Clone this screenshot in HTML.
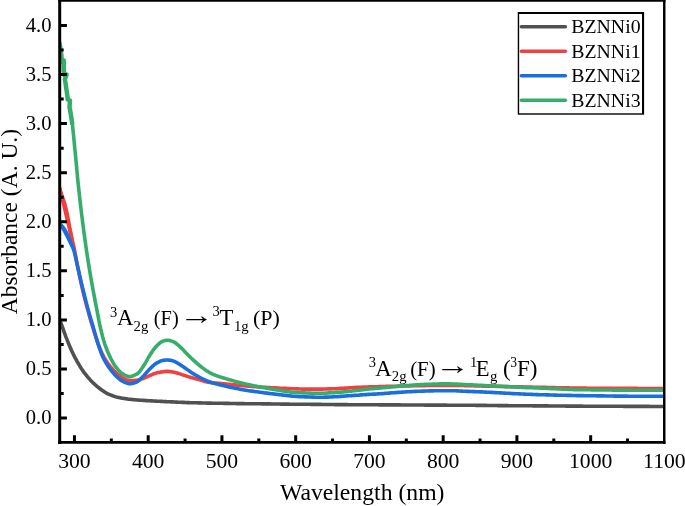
<!DOCTYPE html>
<html><head><meta charset="utf-8"><title>Absorbance</title>
<style>
html,body{margin:0;padding:0;background:#fff;}
svg{display:block}
text{font-family:"Liberation Serif",serif;fill:#000}
</style></head><body>
<svg width="685" height="506" viewBox="0 0 685 506">
<rect width="685" height="506" fill="#fff"/>
<defs><clipPath id="c"><rect x="59.7" y="0.25" width="604.6999999999999" height="442.25"/></clipPath></defs>
<g clip-path="url(#c)" fill="none" stroke-width="3.6" stroke-linejoin="round" stroke-linecap="butt">
<path d="M58.0,317.0 L59.0,318.9 L60.0,321.0 L61.0,323.2 L62.0,325.8 L63.0,328.6 L64.0,331.6 L65.0,334.4 L66.0,337.1 L67.0,339.6 L68.0,342.1 L69.0,344.6 L70.0,347.0 L71.0,349.3 L72.0,351.5 L73.0,353.6 L74.0,355.6 L75.0,357.6 L76.0,359.4 L77.0,361.3 L78.0,363.0 L79.0,364.7 L80.0,366.4 L81.0,368.0 L82.0,369.5 L83.0,370.9 L84.0,372.3 L85.0,373.6 L86.0,374.9 L87.0,376.2 L88.0,377.4 L89.0,378.5 L90.0,379.6 L91.0,380.7 L92.0,381.7 L93.0,382.7 L94.0,383.7 L95.0,384.6 L96.0,385.5 L97.0,386.4 L98.0,387.2 L99.0,388.0 L100.0,388.8 L101.0,389.5 L102.0,390.2 L103.0,390.9 L104.0,391.5 L105.0,392.2 L106.0,392.8 L107.0,393.3 L108.0,393.8 L109.0,394.3 L110.0,394.7 L111.0,395.1 L112.0,395.5 L113.0,395.9 L114.0,396.3 L115.0,396.6 L116.0,396.9 L117.0,397.1 L118.0,397.4 L119.0,397.6 L120.0,397.8 L121.0,398.0 L122.0,398.2 L123.0,398.3 L124.0,398.5 L125.0,398.6 L126.0,398.8 L127.0,398.9 L128.0,399.1 L129.0,399.2 L130.0,399.3 L131.0,399.4 L132.0,399.5 L133.0,399.6 L134.0,399.7 L135.0,399.8 L136.0,399.9 L137.0,400.0 L138.0,400.0 L139.0,400.1 L140.0,400.2 L141.0,400.2 L142.0,400.3 L143.0,400.4 L144.0,400.4 L145.0,400.5 L146.0,400.6 L147.0,400.6 L148.0,400.7 L149.0,400.7 L150.0,400.8 L151.0,400.9 L152.0,400.9 L153.0,401.0 L154.0,401.0 L155.0,401.1 L156.0,401.1 L157.0,401.2 L158.0,401.2 L159.0,401.3 L160.0,401.3 L161.0,401.4 L162.0,401.4 L163.0,401.5 L164.0,401.5 L165.0,401.6 L166.0,401.6 L167.0,401.7 L168.0,401.7 L169.0,401.8 L170.0,401.8 L171.0,401.9 L172.0,401.9 L173.0,401.9 L174.0,402.0 L175.0,402.0 L176.0,402.1 L177.0,402.1 L178.0,402.2 L179.0,402.2 L180.0,402.3 L181.0,402.3 L182.0,402.4 L183.0,402.4 L184.0,402.4 L185.0,402.5 L186.0,402.5 L187.0,402.6 L188.0,402.6 L189.0,402.6 L190.0,402.7 L191.0,402.7 L192.0,402.7 L193.0,402.7 L194.0,402.8 L195.0,402.8 L196.0,402.8 L197.0,402.8 L198.0,402.9 L199.0,402.9 L200.0,402.9 L201.0,402.9 L202.0,403.0 L203.0,403.0 L204.0,403.0 L205.0,403.0 L206.0,403.0 L207.0,403.1 L208.0,403.1 L209.0,403.1 L210.0,403.1 L211.0,403.1 L212.0,403.2 L213.0,403.2 L214.0,403.2 L215.0,403.2 L216.0,403.2 L217.0,403.2 L218.0,403.3 L219.0,403.3 L220.0,403.3 L221.0,403.3 L222.0,403.3 L223.0,403.3 L224.0,403.4 L225.0,403.4 L226.0,403.4 L227.0,403.4 L228.0,403.4 L229.0,403.4 L230.0,403.5 L231.0,403.5 L232.0,403.5 L233.0,403.5 L234.0,403.5 L235.0,403.5 L236.0,403.5 L237.0,403.6 L238.0,403.6 L239.0,403.6 L240.0,403.6 L241.0,403.6 L242.0,403.6 L243.0,403.6 L244.0,403.6 L245.0,403.7 L246.0,403.7 L247.0,403.7 L248.0,403.7 L249.0,403.7 L250.0,403.7 L251.0,403.7 L252.0,403.7 L253.0,403.8 L254.0,403.8 L255.0,403.8 L256.0,403.8 L257.0,403.8 L258.0,403.8 L259.0,403.8 L260.0,403.8 L261.0,403.8 L262.0,403.9 L263.0,403.9 L264.0,403.9 L265.0,403.9 L266.0,403.9 L267.0,403.9 L268.0,403.9 L269.0,403.9 L270.0,403.9 L271.0,404.0 L272.0,404.0 L273.0,404.0 L274.0,404.0 L275.0,404.0 L276.0,404.0 L277.0,404.0 L278.0,404.0 L279.0,404.0 L280.0,404.0 L281.0,404.1 L282.0,404.1 L283.0,404.1 L284.0,404.1 L285.0,404.1 L286.0,404.1 L287.0,404.1 L288.0,404.1 L289.0,404.1 L290.0,404.2 L291.0,404.2 L292.0,404.2 L293.0,404.2 L294.0,404.2 L295.0,404.2 L296.0,404.2 L297.0,404.2 L298.0,404.2 L299.0,404.2 L300.0,404.3 L301.0,404.3 L302.0,404.3 L303.0,404.3 L304.0,404.3 L305.0,404.3 L306.0,404.3 L307.0,404.3 L308.0,404.3 L309.0,404.3 L310.0,404.3 L311.0,404.4 L312.0,404.4 L313.0,404.4 L314.0,404.4 L315.0,404.4 L316.0,404.4 L317.0,404.4 L318.0,404.4 L319.0,404.4 L320.0,404.4 L321.0,404.4 L322.0,404.5 L323.0,404.5 L324.0,404.5 L325.0,404.5 L326.0,404.5 L327.0,404.5 L328.0,404.5 L329.0,404.5 L330.0,404.5 L331.0,404.5 L332.0,404.5 L333.0,404.5 L334.0,404.5 L335.0,404.6 L336.0,404.6 L337.0,404.6 L338.0,404.6 L339.0,404.6 L340.0,404.6 L341.0,404.6 L342.0,404.6 L343.0,404.6 L344.0,404.6 L345.0,404.6 L346.0,404.6 L347.0,404.6 L348.0,404.7 L349.0,404.7 L350.0,404.7 L351.0,404.7 L352.0,404.7 L353.0,404.7 L354.0,404.7 L355.0,404.7 L356.0,404.7 L357.0,404.7 L358.0,404.7 L359.0,404.7 L360.0,404.7 L361.0,404.7 L362.0,404.8 L363.0,404.8 L364.0,404.8 L365.0,404.8 L366.0,404.8 L367.0,404.8 L368.0,404.8 L369.0,404.8 L370.0,404.8 L371.0,404.8 L372.0,404.8 L373.0,404.8 L374.0,404.8 L375.0,404.8 L376.0,404.8 L377.0,404.8 L378.0,404.8 L379.0,404.9 L380.0,404.9 L381.0,404.9 L382.0,404.9 L383.0,404.9 L384.0,404.9 L385.0,404.9 L386.0,404.9 L387.0,404.9 L388.0,404.9 L389.0,404.9 L390.0,404.9 L391.0,404.9 L392.0,404.9 L393.0,404.9 L394.0,404.9 L395.0,404.9 L396.0,404.9 L397.0,404.9 L398.0,404.9 L399.0,404.9 L400.0,404.9 L401.0,405.0 L402.0,405.0 L403.0,405.0 L404.0,405.0 L405.0,405.0 L406.0,405.0 L407.0,405.0 L408.0,405.0 L409.0,405.0 L410.0,405.0 L411.0,405.0 L412.0,405.0 L413.0,405.0 L414.0,405.0 L415.0,405.0 L416.0,405.0 L417.0,405.0 L418.0,405.0 L419.0,405.0 L420.0,405.0 L421.0,405.0 L422.0,405.0 L423.0,405.0 L424.0,405.0 L425.0,405.1 L426.0,405.1 L427.0,405.1 L428.0,405.1 L429.0,405.1 L430.0,405.1 L431.0,405.1 L432.0,405.1 L433.0,405.1 L434.0,405.1 L435.0,405.1 L436.0,405.1 L437.0,405.1 L438.0,405.1 L439.0,405.1 L440.0,405.1 L441.0,405.1 L442.0,405.1 L443.0,405.1 L444.0,405.1 L445.0,405.1 L446.0,405.1 L447.0,405.2 L448.0,405.2 L449.0,405.2 L450.0,405.2 L451.0,405.2 L452.0,405.2 L453.0,405.2 L454.0,405.2 L455.0,405.2 L456.0,405.2 L457.0,405.2 L458.0,405.2 L459.0,405.2 L460.0,405.2 L461.0,405.2 L462.0,405.2 L463.0,405.3 L464.0,405.3 L465.0,405.3 L466.0,405.3 L467.0,405.3 L468.0,405.3 L469.0,405.3 L470.0,405.3 L471.0,405.3 L472.0,405.3 L473.0,405.3 L474.0,405.3 L475.0,405.3 L476.0,405.4 L477.0,405.4 L478.0,405.4 L479.0,405.4 L480.0,405.4 L481.0,405.4 L482.0,405.4 L483.0,405.4 L484.0,405.4 L485.0,405.4 L486.0,405.4 L487.0,405.5 L488.0,405.5 L489.0,405.5 L490.0,405.5 L491.0,405.5 L492.0,405.5 L493.0,405.5 L494.0,405.5 L495.0,405.5 L496.0,405.5 L497.0,405.5 L498.0,405.6 L499.0,405.6 L500.0,405.6 L501.0,405.6 L502.0,405.6 L503.0,405.6 L504.0,405.6 L505.0,405.6 L506.0,405.6 L507.0,405.6 L508.0,405.6 L509.0,405.7 L510.0,405.7 L511.0,405.7 L512.0,405.7 L513.0,405.7 L514.0,405.7 L515.0,405.7 L516.0,405.7 L517.0,405.7 L518.0,405.7 L519.0,405.7 L520.0,405.8 L521.0,405.8 L522.0,405.8 L523.0,405.8 L524.0,405.8 L525.0,405.8 L526.0,405.8 L527.0,405.8 L528.0,405.8 L529.0,405.8 L530.0,405.8 L531.0,405.8 L532.0,405.8 L533.0,405.9 L534.0,405.9 L535.0,405.9 L536.0,405.9 L537.0,405.9 L538.0,405.9 L539.0,405.9 L540.0,405.9 L541.0,405.9 L542.0,405.9 L543.0,405.9 L544.0,405.9 L545.0,405.9 L546.0,405.9 L547.0,405.9 L548.0,405.9 L549.0,406.0 L550.0,406.0 L551.0,406.0 L552.0,406.0 L553.0,406.0 L554.0,406.0 L555.0,406.0 L556.0,406.0 L557.0,406.0 L558.0,406.0 L559.0,406.0 L560.0,406.0 L561.0,406.0 L562.0,406.0 L563.0,406.0 L564.0,406.0 L565.0,406.0 L566.0,406.1 L567.0,406.1 L568.0,406.1 L569.0,406.1 L570.0,406.1 L571.0,406.1 L572.0,406.1 L573.0,406.1 L574.0,406.1 L575.0,406.1 L576.0,406.1 L577.0,406.1 L578.0,406.1 L579.0,406.1 L580.0,406.1 L581.0,406.1 L582.0,406.1 L583.0,406.2 L584.0,406.2 L585.0,406.2 L586.0,406.2 L587.0,406.2 L588.0,406.2 L589.0,406.2 L590.0,406.2 L591.0,406.2 L592.0,406.2 L593.0,406.2 L594.0,406.2 L595.0,406.2 L596.0,406.2 L597.0,406.2 L598.0,406.2 L599.0,406.2 L600.0,406.2 L601.0,406.2 L602.0,406.2 L603.0,406.3 L604.0,406.3 L605.0,406.3 L606.0,406.3 L607.0,406.3 L608.0,406.3 L609.0,406.3 L610.0,406.3 L611.0,406.3 L612.0,406.3 L613.0,406.3 L614.0,406.3 L615.0,406.3 L616.0,406.3 L617.0,406.3 L618.0,406.3 L619.0,406.3 L620.0,406.3 L621.0,406.3 L622.0,406.3 L623.0,406.3 L624.0,406.4 L625.0,406.4 L626.0,406.4 L627.0,406.4 L628.0,406.4 L629.0,406.4 L630.0,406.4 L631.0,406.4 L632.0,406.4 L633.0,406.4 L634.0,406.4 L635.0,406.4 L636.0,406.4 L637.0,406.4 L638.0,406.4 L639.0,406.4 L640.0,406.4 L641.0,406.4 L642.0,406.4 L643.0,406.4 L644.0,406.4 L645.0,406.4 L646.0,406.4 L647.0,406.4 L648.0,406.4 L649.0,406.4 L650.0,406.5 L651.0,406.5 L652.0,406.5 L653.0,406.5 L654.0,406.5 L655.0,406.5 L656.0,406.5 L657.0,406.5 L658.0,406.5 L659.0,406.5 L660.0,406.5 L661.0,406.5 L662.0,406.5 L663.0,406.5 L664.0,406.5 L665.0,406.5 L666.0,406.5" stroke="#515151"/>
<path d="M58.0,182.0 L59.0,185.8 L60.0,189.7 L61.0,193.6 L62.0,197.6 L63.0,201.8 L64.0,205.9 L65.0,210.2 L66.0,214.4 L67.0,218.7 L68.0,222.9 L69.0,227.1 L70.0,231.1 L71.0,235.0 L72.0,239.0 L73.0,243.1 L74.0,247.5 L75.0,252.5 L76.0,257.9 L77.0,263.0 L78.0,268.1 L79.0,273.1 L80.0,278.0 L81.0,282.7 L82.0,287.1 L83.0,291.3 L84.0,295.5 L85.0,299.5 L86.0,303.4 L87.0,307.2 L88.0,310.9 L89.0,314.5 L90.0,318.1 L91.0,321.5 L92.0,324.8 L93.0,328.1 L94.0,331.3 L95.0,334.5 L96.0,337.7 L97.0,340.7 L98.0,343.6 L99.0,346.3 L100.0,348.7 L101.0,351.0 L102.0,353.3 L103.0,355.3 L104.0,357.3 L105.0,359.0 L106.0,360.6 L107.0,362.1 L108.0,363.5 L109.0,364.8 L110.0,366.1 L111.0,367.3 L112.0,368.5 L113.0,369.6 L114.0,370.7 L115.0,371.7 L116.0,372.6 L117.0,373.5 L118.0,374.4 L119.0,375.2 L120.0,376.0 L121.0,376.7 L122.0,377.4 L123.0,378.1 L124.0,378.6 L125.0,379.1 L126.0,379.6 L127.0,380.0 L128.0,380.3 L129.0,380.6 L130.0,380.6 L131.0,380.6 L132.0,380.6 L133.0,380.5 L134.0,380.5 L135.0,380.4 L136.0,380.3 L137.0,380.2 L138.0,380.0 L139.0,379.8 L140.0,379.5 L141.0,379.2 L142.0,378.9 L143.0,378.5 L144.0,378.2 L145.0,377.7 L146.0,377.3 L147.0,376.8 L148.0,376.3 L149.0,375.9 L150.0,375.4 L151.0,375.0 L152.0,374.6 L153.0,374.1 L154.0,373.8 L155.0,373.4 L156.0,373.1 L157.0,372.8 L158.0,372.6 L159.0,372.4 L160.0,372.2 L161.0,372.0 L162.0,371.9 L163.0,371.7 L164.0,371.6 L165.0,371.5 L166.0,371.4 L167.0,371.4 L168.0,371.4 L169.0,371.5 L170.0,371.6 L171.0,371.7 L172.0,371.9 L173.0,372.0 L174.0,372.2 L175.0,372.4 L176.0,372.7 L177.0,373.0 L178.0,373.3 L179.0,373.6 L180.0,373.9 L181.0,374.2 L182.0,374.6 L183.0,374.9 L184.0,375.3 L185.0,375.6 L186.0,375.9 L187.0,376.3 L188.0,376.6 L189.0,376.9 L190.0,377.2 L191.0,377.5 L192.0,377.8 L193.0,378.1 L194.0,378.3 L195.0,378.6 L196.0,378.9 L197.0,379.1 L198.0,379.4 L199.0,379.6 L200.0,379.9 L201.0,380.2 L202.0,380.5 L203.0,380.8 L204.0,381.2 L205.0,381.5 L206.0,381.8 L207.0,382.0 L208.0,382.2 L209.0,382.3 L210.0,382.5 L211.0,382.6 L212.0,382.7 L213.0,382.8 L214.0,382.9 L215.0,383.0 L216.0,383.0 L217.0,383.1 L218.0,383.2 L219.0,383.3 L220.0,383.4 L221.0,383.5 L222.0,383.6 L223.0,383.7 L224.0,383.8 L225.0,383.9 L226.0,384.0 L227.0,384.1 L228.0,384.2 L229.0,384.3 L230.0,384.4 L231.0,384.5 L232.0,384.6 L233.0,384.7 L234.0,384.8 L235.0,384.9 L236.0,385.0 L237.0,385.1 L238.0,385.2 L239.0,385.3 L240.0,385.4 L241.0,385.5 L242.0,385.6 L243.0,385.7 L244.0,385.8 L245.0,385.9 L246.0,386.0 L247.0,386.0 L248.0,386.1 L249.0,386.2 L250.0,386.3 L251.0,386.4 L252.0,386.5 L253.0,386.5 L254.0,386.6 L255.0,386.7 L256.0,386.8 L257.0,386.9 L258.0,386.9 L259.0,387.0 L260.0,387.1 L261.0,387.1 L262.0,387.2 L263.0,387.2 L264.0,387.3 L265.0,387.3 L266.0,387.4 L267.0,387.5 L268.0,387.5 L269.0,387.6 L270.0,387.6 L271.0,387.7 L272.0,387.7 L273.0,387.8 L274.0,387.8 L275.0,387.9 L276.0,387.9 L277.0,388.0 L278.0,388.0 L279.0,388.1 L280.0,388.2 L281.0,388.2 L282.0,388.3 L283.0,388.3 L284.0,388.4 L285.0,388.4 L286.0,388.4 L287.0,388.5 L288.0,388.5 L289.0,388.6 L290.0,388.6 L291.0,388.7 L292.0,388.7 L293.0,388.8 L294.0,388.8 L295.0,388.8 L296.0,388.9 L297.0,388.9 L298.0,388.9 L299.0,389.0 L300.0,389.0 L301.0,389.0 L302.0,389.1 L303.0,389.1 L304.0,389.1 L305.0,389.1 L306.0,389.1 L307.0,389.1 L308.0,389.1 L309.0,389.1 L310.0,389.1 L311.0,389.1 L312.0,389.1 L313.0,389.1 L314.0,389.1 L315.0,389.1 L316.0,389.1 L317.0,389.1 L318.0,389.1 L319.0,389.1 L320.0,389.1 L321.0,389.1 L322.0,389.1 L323.0,389.1 L324.0,389.0 L325.0,389.0 L326.0,389.0 L327.0,389.0 L328.0,388.9 L329.0,388.9 L330.0,388.9 L331.0,388.9 L332.0,388.8 L333.0,388.8 L334.0,388.7 L335.0,388.7 L336.0,388.7 L337.0,388.6 L338.0,388.6 L339.0,388.5 L340.0,388.4 L341.0,388.4 L342.0,388.3 L343.0,388.3 L344.0,388.2 L345.0,388.1 L346.0,388.1 L347.0,388.0 L348.0,388.0 L349.0,387.9 L350.0,387.8 L351.0,387.8 L352.0,387.7 L353.0,387.6 L354.0,387.6 L355.0,387.5 L356.0,387.4 L357.0,387.4 L358.0,387.3 L359.0,387.3 L360.0,387.2 L361.0,387.2 L362.0,387.2 L363.0,387.1 L364.0,387.1 L365.0,387.1 L366.0,387.0 L367.0,387.0 L368.0,387.0 L369.0,386.9 L370.0,386.9 L371.0,386.9 L372.0,386.8 L373.0,386.8 L374.0,386.8 L375.0,386.7 L376.0,386.7 L377.0,386.7 L378.0,386.7 L379.0,386.6 L380.0,386.6 L381.0,386.6 L382.0,386.5 L383.0,386.5 L384.0,386.5 L385.0,386.5 L386.0,386.4 L387.0,386.4 L388.0,386.4 L389.0,386.4 L390.0,386.3 L391.0,386.3 L392.0,386.3 L393.0,386.3 L394.0,386.2 L395.0,386.2 L396.0,386.2 L397.0,386.2 L398.0,386.1 L399.0,386.1 L400.0,386.1 L401.0,386.1 L402.0,386.1 L403.0,386.0 L404.0,386.0 L405.0,386.0 L406.0,386.0 L407.0,385.9 L408.0,385.9 L409.0,385.9 L410.0,385.9 L411.0,385.9 L412.0,385.8 L413.0,385.8 L414.0,385.8 L415.0,385.8 L416.0,385.7 L417.0,385.7 L418.0,385.7 L419.0,385.7 L420.0,385.7 L421.0,385.6 L422.0,385.6 L423.0,385.6 L424.0,385.6 L425.0,385.6 L426.0,385.5 L427.0,385.5 L428.0,385.5 L429.0,385.5 L430.0,385.5 L431.0,385.5 L432.0,385.5 L433.0,385.5 L434.0,385.5 L435.0,385.5 L436.0,385.5 L437.0,385.5 L438.0,385.5 L439.0,385.4 L440.0,385.4 L441.0,385.4 L442.0,385.4 L443.0,385.4 L444.0,385.4 L445.0,385.4 L446.0,385.4 L447.0,385.4 L448.0,385.4 L449.0,385.4 L450.0,385.4 L451.0,385.4 L452.0,385.4 L453.0,385.4 L454.0,385.4 L455.0,385.4 L456.0,385.4 L457.0,385.4 L458.0,385.4 L459.0,385.4 L460.0,385.4 L461.0,385.5 L462.0,385.5 L463.0,385.5 L464.0,385.5 L465.0,385.6 L466.0,385.6 L467.0,385.6 L468.0,385.7 L469.0,385.7 L470.0,385.7 L471.0,385.8 L472.0,385.8 L473.0,385.8 L474.0,385.8 L475.0,385.9 L476.0,385.9 L477.0,385.9 L478.0,385.9 L479.0,386.0 L480.0,386.0 L481.0,386.0 L482.0,386.0 L483.0,386.1 L484.0,386.1 L485.0,386.1 L486.0,386.1 L487.0,386.1 L488.0,386.2 L489.0,386.2 L490.0,386.2 L491.0,386.2 L492.0,386.3 L493.0,386.3 L494.0,386.3 L495.0,386.3 L496.0,386.4 L497.0,386.4 L498.0,386.4 L499.0,386.4 L500.0,386.4 L501.0,386.5 L502.0,386.5 L503.0,386.5 L504.0,386.5 L505.0,386.6 L506.0,386.6 L507.0,386.6 L508.0,386.6 L509.0,386.6 L510.0,386.7 L511.0,386.7 L512.0,386.7 L513.0,386.7 L514.0,386.7 L515.0,386.8 L516.0,386.8 L517.0,386.8 L518.0,386.8 L519.0,386.9 L520.0,386.9 L521.0,386.9 L522.0,386.9 L523.0,386.9 L524.0,387.0 L525.0,387.0 L526.0,387.0 L527.0,387.0 L528.0,387.0 L529.0,387.1 L530.0,387.1 L531.0,387.1 L532.0,387.1 L533.0,387.2 L534.0,387.2 L535.0,387.2 L536.0,387.2 L537.0,387.2 L538.0,387.3 L539.0,387.3 L540.0,387.3 L541.0,387.3 L542.0,387.3 L543.0,387.4 L544.0,387.4 L545.0,387.4 L546.0,387.4 L547.0,387.5 L548.0,387.5 L549.0,387.5 L550.0,387.5 L551.0,387.5 L552.0,387.6 L553.0,387.6 L554.0,387.6 L555.0,387.6 L556.0,387.7 L557.0,387.7 L558.0,387.7 L559.0,387.7 L560.0,387.8 L561.0,387.8 L562.0,387.8 L563.0,387.8 L564.0,387.9 L565.0,387.9 L566.0,387.9 L567.0,387.9 L568.0,387.9 L569.0,387.9 L570.0,388.0 L571.0,388.0 L572.0,388.0 L573.0,388.0 L574.0,388.0 L575.0,388.0 L576.0,388.1 L577.0,388.1 L578.0,388.1 L579.0,388.1 L580.0,388.1 L581.0,388.1 L582.0,388.1 L583.0,388.1 L584.0,388.1 L585.0,388.1 L586.0,388.1 L587.0,388.2 L588.0,388.2 L589.0,388.2 L590.0,388.2 L591.0,388.2 L592.0,388.2 L593.0,388.2 L594.0,388.2 L595.0,388.2 L596.0,388.2 L597.0,388.2 L598.0,388.2 L599.0,388.2 L600.0,388.3 L601.0,388.3 L602.0,388.3 L603.0,388.3 L604.0,388.3 L605.0,388.3 L606.0,388.3 L607.0,388.3 L608.0,388.3 L609.0,388.3 L610.0,388.3 L611.0,388.3 L612.0,388.3 L613.0,388.3 L614.0,388.3 L615.0,388.3 L616.0,388.4 L617.0,388.4 L618.0,388.4 L619.0,388.4 L620.0,388.4 L621.0,388.4 L622.0,388.4 L623.0,388.4 L624.0,388.4 L625.0,388.4 L626.0,388.4 L627.0,388.4 L628.0,388.4 L629.0,388.4 L630.0,388.4 L631.0,388.4 L632.0,388.4 L633.0,388.4 L634.0,388.4 L635.0,388.4 L636.0,388.4 L637.0,388.4 L638.0,388.5 L639.0,388.5 L640.0,388.5 L641.0,388.5 L642.0,388.5 L643.0,388.5 L644.0,388.5 L645.0,388.5 L646.0,388.5 L647.0,388.5 L648.0,388.5 L649.0,388.5 L650.0,388.5 L651.0,388.5 L652.0,388.5 L653.0,388.5 L654.0,388.5 L655.0,388.5 L656.0,388.5 L657.0,388.5 L658.0,388.5 L659.0,388.5 L660.0,388.5 L661.0,388.5 L662.0,388.5 L663.0,388.5 L664.0,388.5 L665.0,388.5 L666.0,388.5" stroke="#F14040"/>
<path d="M58.00,182.00 L58.50,183.88 L59.00,185.78 L59.50,187.71 L60.00,189.65 L60.50,191.61 L61.22,193.60 L61.93,195.61 L62.65,197.64 L63.37,199.69 L64.08,201.76 L64.80,203.83 L65.30,205.92 L65.80,208.03 L66.30,210.16 L66.80,212.29 L67.30,214.43 L67.69,216.57 L68.08,218.71 L68.47,220.83 L68.87,222.95 L69.26,225.05 L69.65,227.13 L70.04,229.15 L70.43,231.13 L70.83,233.08 L71.22,235.03 L71.61,236.98 L72.00,238.96" stroke="#F14040"/>
<path d="M58.0,222.0 L59.0,222.9 L60.0,224.0 L61.0,225.3 L62.0,226.7 L63.0,228.3 L64.0,230.1 L65.0,232.0 L66.0,233.8 L67.0,235.7 L68.0,237.7 L69.0,239.7 L70.0,241.8 L71.0,243.8 L72.0,245.9 L73.0,248.1 L74.0,250.9 L75.0,254.8 L76.0,259.3 L77.0,263.9 L78.0,268.3 L79.0,272.7 L80.0,277.1 L81.0,281.4 L82.0,285.7 L83.0,289.8 L84.0,293.8 L85.0,297.7 L86.0,301.6 L87.0,305.4 L88.0,309.1 L89.0,312.7 L90.0,316.2 L91.0,319.7 L92.0,323.1 L93.0,326.6 L94.0,330.1 L95.0,333.5 L96.0,336.9 L97.0,340.1 L98.0,343.4 L99.0,346.6 L100.0,349.7 L101.0,352.5 L102.0,355.0 L103.0,357.2 L104.0,359.3 L105.0,361.2 L106.0,362.9 L107.0,364.5 L108.0,366.1 L109.0,367.5 L110.0,368.9 L111.0,370.2 L112.0,371.5 L113.0,372.7 L114.0,373.9 L115.0,375.0 L116.0,376.0 L117.0,377.0 L118.0,377.9 L119.0,378.7 L120.0,379.5 L121.0,380.3 L122.0,380.9 L123.0,381.5 L124.0,382.0 L125.0,382.4 L126.0,382.8 L127.0,383.2 L128.0,383.5 L129.0,383.7 L130.0,383.7 L131.0,383.6 L132.0,383.5 L133.0,383.2 L134.0,383.0 L135.0,382.6 L136.0,382.3 L137.0,381.9 L138.0,381.2 L139.0,380.4 L140.0,379.5 L141.0,378.4 L142.0,377.4 L143.0,376.4 L144.0,375.4 L145.0,374.3 L146.0,373.1 L147.0,372.0 L148.0,370.9 L149.0,369.8 L150.0,368.8 L151.0,367.8 L152.0,366.8 L153.0,365.9 L154.0,365.0 L155.0,364.2 L156.0,363.5 L157.0,362.9 L158.0,362.3 L159.0,361.8 L160.0,361.3 L161.0,360.9 L162.0,360.6 L163.0,360.4 L164.0,360.3 L165.0,360.1 L166.0,360.0 L167.0,360.0 L168.0,360.0 L169.0,360.1 L170.0,360.3 L171.0,360.4 L172.0,360.6 L173.0,360.9 L174.0,361.2 L175.0,361.6 L176.0,362.2 L177.0,362.8 L178.0,363.4 L179.0,364.0 L180.0,364.6 L181.0,365.3 L182.0,365.9 L183.0,366.6 L184.0,367.3 L185.0,368.0 L186.0,368.7 L187.0,369.4 L188.0,370.1 L189.0,370.8 L190.0,371.5 L191.0,372.2 L192.0,372.9 L193.0,373.5 L194.0,374.1 L195.0,374.7 L196.0,375.3 L197.0,375.9 L198.0,376.4 L199.0,377.0 L200.0,377.5 L201.0,378.0 L202.0,378.5 L203.0,379.0 L204.0,379.5 L205.0,380.0 L206.0,380.4 L207.0,380.9 L208.0,381.3 L209.0,381.6 L210.0,382.0 L211.0,382.3 L212.0,382.7 L213.0,383.0 L214.0,383.3 L215.0,383.6 L216.0,383.9 L217.0,384.1 L218.0,384.4 L219.0,384.6 L220.0,384.9 L221.0,385.1 L222.0,385.4 L223.0,385.6 L224.0,385.8 L225.0,386.1 L226.0,386.3 L227.0,386.5 L228.0,386.7 L229.0,387.0 L230.0,387.2 L231.0,387.4 L232.0,387.6 L233.0,387.8 L234.0,388.0 L235.0,388.2 L236.0,388.4 L237.0,388.6 L238.0,388.8 L239.0,389.0 L240.0,389.2 L241.0,389.4 L242.0,389.6 L243.0,389.7 L244.0,389.9 L245.0,390.1 L246.0,390.2 L247.0,390.4 L248.0,390.6 L249.0,390.7 L250.0,390.9 L251.0,391.0 L252.0,391.1 L253.0,391.3 L254.0,391.4 L255.0,391.6 L256.0,391.7 L257.0,391.8 L258.0,391.9 L259.0,392.1 L260.0,392.2 L261.0,392.3 L262.0,392.5 L263.0,392.6 L264.0,392.7 L265.0,392.9 L266.0,393.0 L267.0,393.1 L268.0,393.3 L269.0,393.4 L270.0,393.5 L271.0,393.7 L272.0,393.8 L273.0,393.9 L274.0,394.0 L275.0,394.1 L276.0,394.3 L277.0,394.4 L278.0,394.5 L279.0,394.6 L280.0,394.7 L281.0,394.8 L282.0,395.0 L283.0,395.1 L284.0,395.2 L285.0,395.3 L286.0,395.4 L287.0,395.5 L288.0,395.7 L289.0,395.8 L290.0,395.9 L291.0,396.0 L292.0,396.1 L293.0,396.2 L294.0,396.3 L295.0,396.3 L296.0,396.4 L297.0,396.5 L298.0,396.5 L299.0,396.6 L300.0,396.6 L301.0,396.7 L302.0,396.7 L303.0,396.8 L304.0,396.8 L305.0,396.9 L306.0,396.9 L307.0,396.9 L308.0,397.0 L309.0,397.0 L310.0,397.0 L311.0,397.0 L312.0,397.1 L313.0,397.1 L314.0,397.1 L315.0,397.2 L316.0,397.2 L317.0,397.2 L318.0,397.2 L319.0,397.2 L320.0,397.2 L321.0,397.2 L322.0,397.2 L323.0,397.2 L324.0,397.2 L325.0,397.1 L326.0,397.1 L327.0,397.1 L328.0,397.1 L329.0,397.0 L330.0,397.0 L331.0,397.0 L332.0,396.9 L333.0,396.9 L334.0,396.8 L335.0,396.8 L336.0,396.7 L337.0,396.7 L338.0,396.6 L339.0,396.5 L340.0,396.4 L341.0,396.4 L342.0,396.3 L343.0,396.2 L344.0,396.1 L345.0,396.0 L346.0,396.0 L347.0,395.9 L348.0,395.8 L349.0,395.8 L350.0,395.7 L351.0,395.6 L352.0,395.6 L353.0,395.5 L354.0,395.4 L355.0,395.4 L356.0,395.3 L357.0,395.2 L358.0,395.2 L359.0,395.1 L360.0,395.0 L361.0,394.9 L362.0,394.9 L363.0,394.8 L364.0,394.7 L365.0,394.6 L366.0,394.6 L367.0,394.5 L368.0,394.4 L369.0,394.4 L370.0,394.3 L371.0,394.2 L372.0,394.2 L373.0,394.1 L374.0,394.1 L375.0,394.1 L376.0,394.0 L377.0,394.0 L378.0,393.9 L379.0,393.8 L380.0,393.8 L381.0,393.7 L382.0,393.6 L383.0,393.6 L384.0,393.5 L385.0,393.4 L386.0,393.3 L387.0,393.2 L388.0,393.2 L389.0,393.1 L390.0,393.0 L391.0,392.9 L392.0,392.8 L393.0,392.8 L394.0,392.7 L395.0,392.6 L396.0,392.6 L397.0,392.5 L398.0,392.4 L399.0,392.4 L400.0,392.3 L401.0,392.2 L402.0,392.1 L403.0,392.1 L404.0,392.0 L405.0,392.0 L406.0,391.9 L407.0,391.8 L408.0,391.8 L409.0,391.7 L410.0,391.7 L411.0,391.6 L412.0,391.6 L413.0,391.5 L414.0,391.5 L415.0,391.4 L416.0,391.4 L417.0,391.3 L418.0,391.3 L419.0,391.2 L420.0,391.2 L421.0,391.2 L422.0,391.1 L423.0,391.1 L424.0,391.1 L425.0,391.0 L426.0,391.0 L427.0,391.0 L428.0,391.0 L429.0,390.9 L430.0,390.9 L431.0,390.9 L432.0,390.9 L433.0,390.9 L434.0,390.8 L435.0,390.8 L436.0,390.8 L437.0,390.8 L438.0,390.8 L439.0,390.7 L440.0,390.7 L441.0,390.7 L442.0,390.7 L443.0,390.7 L444.0,390.7 L445.0,390.7 L446.0,390.7 L447.0,390.7 L448.0,390.7 L449.0,390.7 L450.0,390.7 L451.0,390.7 L452.0,390.8 L453.0,390.8 L454.0,390.8 L455.0,390.8 L456.0,390.8 L457.0,390.9 L458.0,390.9 L459.0,391.0 L460.0,391.0 L461.0,391.1 L462.0,391.1 L463.0,391.2 L464.0,391.2 L465.0,391.3 L466.0,391.3 L467.0,391.4 L468.0,391.4 L469.0,391.4 L470.0,391.5 L471.0,391.5 L472.0,391.5 L473.0,391.6 L474.0,391.6 L475.0,391.6 L476.0,391.7 L477.0,391.7 L478.0,391.8 L479.0,391.8 L480.0,391.9 L481.0,391.9 L482.0,391.9 L483.0,392.0 L484.0,392.0 L485.0,392.1 L486.0,392.1 L487.0,392.2 L488.0,392.2 L489.0,392.3 L490.0,392.3 L491.0,392.4 L492.0,392.4 L493.0,392.5 L494.0,392.5 L495.0,392.6 L496.0,392.6 L497.0,392.7 L498.0,392.8 L499.0,392.8 L500.0,392.9 L501.0,392.9 L502.0,393.0 L503.0,393.0 L504.0,393.1 L505.0,393.1 L506.0,393.2 L507.0,393.2 L508.0,393.3 L509.0,393.3 L510.0,393.4 L511.0,393.5 L512.0,393.5 L513.0,393.6 L514.0,393.6 L515.0,393.7 L516.0,393.7 L517.0,393.8 L518.0,393.8 L519.0,393.9 L520.0,393.9 L521.0,394.0 L522.0,394.0 L523.0,394.0 L524.0,394.1 L525.0,394.1 L526.0,394.2 L527.0,394.2 L528.0,394.3 L529.0,394.3 L530.0,394.3 L531.0,394.4 L532.0,394.4 L533.0,394.5 L534.0,394.5 L535.0,394.5 L536.0,394.6 L537.0,394.6 L538.0,394.6 L539.0,394.7 L540.0,394.7 L541.0,394.7 L542.0,394.8 L543.0,394.8 L544.0,394.8 L545.0,394.8 L546.0,394.9 L547.0,394.9 L548.0,394.9 L549.0,394.9 L550.0,395.0 L551.0,395.0 L552.0,395.0 L553.0,395.0 L554.0,395.1 L555.0,395.1 L556.0,395.1 L557.0,395.1 L558.0,395.2 L559.0,395.2 L560.0,395.2 L561.0,395.2 L562.0,395.3 L563.0,395.3 L564.0,395.3 L565.0,395.3 L566.0,395.3 L567.0,395.4 L568.0,395.4 L569.0,395.4 L570.0,395.4 L571.0,395.4 L572.0,395.5 L573.0,395.5 L574.0,395.5 L575.0,395.5 L576.0,395.5 L577.0,395.6 L578.0,395.6 L579.0,395.6 L580.0,395.6 L581.0,395.6 L582.0,395.6 L583.0,395.6 L584.0,395.7 L585.0,395.7 L586.0,395.7 L587.0,395.7 L588.0,395.7 L589.0,395.7 L590.0,395.8 L591.0,395.8 L592.0,395.8 L593.0,395.8 L594.0,395.8 L595.0,395.8 L596.0,395.8 L597.0,395.9 L598.0,395.9 L599.0,395.9 L600.0,395.9 L601.0,395.9 L602.0,395.9 L603.0,395.9 L604.0,395.9 L605.0,396.0 L606.0,396.0 L607.0,396.0 L608.0,396.0 L609.0,396.0 L610.0,396.0 L611.0,396.0 L612.0,396.0 L613.0,396.0 L614.0,396.1 L615.0,396.1 L616.0,396.1 L617.0,396.1 L618.0,396.1 L619.0,396.1 L620.0,396.1 L621.0,396.1 L622.0,396.1 L623.0,396.1 L624.0,396.1 L625.0,396.1 L626.0,396.1 L627.0,396.1 L628.0,396.2 L629.0,396.2 L630.0,396.2 L631.0,396.2 L632.0,396.2 L633.0,396.2 L634.0,396.2 L635.0,396.2 L636.0,396.2 L637.0,396.2 L638.0,396.2 L639.0,396.2 L640.0,396.2 L641.0,396.2 L642.0,396.2 L643.0,396.2 L644.0,396.2 L645.0,396.2 L646.0,396.3 L647.0,396.3 L648.0,396.3 L649.0,396.3 L650.0,396.3 L651.0,396.3 L652.0,396.3 L653.0,396.3 L654.0,396.3 L655.0,396.3 L656.0,396.3 L657.0,396.3 L658.0,396.3 L659.0,396.3 L660.0,396.3 L661.0,396.3 L662.0,396.3 L663.0,396.3 L664.0,396.3 L665.0,396.3 L666.0,396.3" stroke="#1A6FDF"/>
<path d="M58.00,222.00 L58.50,222.45 L59.00,222.93 L59.50,223.46 L60.00,224.02 L60.50,224.62 L61.17,225.26 L61.83,225.96 L62.50,226.71 L63.17,227.51 L63.83,228.35 L64.50,229.22 L65.00,230.11 L65.50,231.03 L66.00,231.96 L66.50,232.89 L67.00,233.82 L67.42,234.74 L67.83,235.70 L68.25,236.67 L68.67,237.66 L69.08,238.67 L69.50,239.69 L69.92,240.73 L70.33,241.78 L70.75,242.82 L71.17,243.83 L71.58,244.83 L72.00,245.85" stroke="#1A6FDF"/>
<path d="M59.5,42.5 L60.6,50 L61.5,56 L61.3,62 L63.8,60.5 L63.7,68 L64.2,75 L66.6,74.5 L64.9,79 L66.2,88 L67.4,96 L67.7,99.5 L70.0,100.5 L69.5,107 L70.6,113 L72.4,124.5" stroke="#37AD6B" stroke-width="4.5"/>
<path d="M70.6,113.0 L71.6,118.7 L72.6,126.1 L73.6,135.9 L74.6,146.3 L75.6,156.7 L76.6,167.2 L77.6,178.0 L78.6,187.8 L79.6,196.9 L80.6,205.6 L81.6,213.9 L82.6,221.9 L83.6,229.7 L84.6,237.1 L85.6,244.3 L86.6,251.2 L87.6,257.8 L88.6,264.1 L89.6,270.2 L90.6,276.1 L91.6,281.9 L92.6,287.5 L93.6,292.8 L94.6,298.1 L95.6,303.3 L96.6,308.4 L97.6,313.7 L98.6,319.0 L99.6,324.0 L100.6,328.5 L101.6,332.7 L102.6,336.7 L103.6,340.3 L104.6,343.5 L105.6,346.4 L106.6,349.0 L107.6,351.5 L108.6,353.8 L109.6,356.0 L110.6,358.1 L111.6,360.0 L112.6,361.9 L113.6,363.6 L114.6,365.2 L115.6,366.6 L116.6,367.9 L117.6,369.1 L118.6,370.3 L119.6,371.3 L120.6,372.3 L121.6,373.1 L122.6,373.8 L123.6,374.4 L124.6,375.0 L125.6,375.5 L126.6,376.0 L127.6,376.3 L128.6,376.6 L129.6,376.6 L130.6,376.5 L131.6,376.3 L132.6,376.0 L133.6,375.6 L134.6,375.2 L135.6,374.7 L136.6,374.2 L137.6,373.6 L138.6,372.7 L139.6,371.6 L140.6,370.2 L141.6,368.8 L142.6,367.3 L143.6,365.8 L144.6,364.3 L145.6,362.6 L146.6,360.8 L147.6,359.0 L148.6,357.2 L149.6,355.6 L150.6,354.0 L151.6,352.5 L152.6,351.1 L153.6,349.6 L154.6,348.3 L155.6,347.1 L156.6,346.0 L157.6,345.0 L158.6,344.1 L159.6,343.2 L160.6,342.4 L161.6,341.8 L162.6,341.3 L163.6,340.9 L164.6,340.6 L165.6,340.4 L166.6,340.2 L167.6,340.2 L168.6,340.3 L169.6,340.5 L170.6,340.8 L171.6,341.1 L172.6,341.4 L173.6,341.8 L174.6,342.3 L175.6,343.0 L176.6,343.8 L177.6,344.7 L178.6,345.5 L179.6,346.4 L180.6,347.3 L181.6,348.3 L182.6,349.3 L183.6,350.3 L184.6,351.4 L185.6,352.4 L186.6,353.4 L187.6,354.4 L188.6,355.4 L189.6,356.5 L190.6,357.5 L191.6,358.5 L192.6,359.4 L193.6,360.3 L194.6,361.2 L195.6,362.1 L196.6,363.0 L197.6,363.9 L198.6,364.7 L199.6,365.5 L200.6,366.3 L201.6,367.1 L202.6,367.9 L203.6,368.6 L204.6,369.4 L205.6,370.1 L206.6,370.8 L207.6,371.4 L208.6,372.0 L209.6,372.6 L210.6,373.1 L211.6,373.6 L212.6,374.1 L213.6,374.5 L214.6,375.0 L215.6,375.4 L216.6,375.7 L217.6,376.1 L218.6,376.4 L219.6,376.8 L220.6,377.1 L221.6,377.4 L222.6,377.7 L223.6,378.0 L224.6,378.3 L225.6,378.6 L226.6,378.9 L227.6,379.2 L228.6,379.5 L229.6,379.8 L230.6,380.1 L231.6,380.3 L232.6,380.6 L233.6,380.9 L234.6,381.2 L235.6,381.4 L236.6,381.7 L237.6,381.9 L238.6,382.2 L239.6,382.5 L240.6,382.7 L241.6,383.0 L242.6,383.2 L243.6,383.5 L244.6,383.7 L245.6,383.9 L246.6,384.2 L247.6,384.4 L248.6,384.6 L249.6,384.8 L250.6,385.1 L251.6,385.3 L252.6,385.5 L253.6,385.7 L254.6,385.9 L255.6,386.1 L256.6,386.3 L257.6,386.5 L258.6,386.7 L259.6,386.9 L260.6,387.1 L261.6,387.3 L262.6,387.5 L263.6,387.6 L264.6,387.8 L265.6,388.0 L266.6,388.2 L267.6,388.3 L268.6,388.5 L269.6,388.7 L270.6,388.9 L271.6,389.0 L272.6,389.2 L273.6,389.4 L274.6,389.5 L275.6,389.7 L276.6,389.9 L277.6,390.1 L278.6,390.3 L279.6,390.4 L280.6,390.6 L281.6,390.8 L282.6,390.9 L283.6,391.1 L284.6,391.2 L285.6,391.4 L286.6,391.5 L287.6,391.7 L288.6,391.8 L289.6,391.9 L290.6,392.1 L291.6,392.2 L292.6,392.3 L293.6,392.3 L294.6,392.4 L295.6,392.5 L296.6,392.5 L297.6,392.6 L298.6,392.7 L299.6,392.7 L300.6,392.8 L301.6,392.8 L302.6,392.9 L303.6,392.9 L304.6,392.9 L305.6,393.0 L306.6,393.0 L307.6,393.0 L308.6,393.1 L309.6,393.1 L310.6,393.1 L311.6,393.2 L312.6,393.2 L313.6,393.2 L314.6,393.2 L315.6,393.3 L316.6,393.3 L317.6,393.3 L318.6,393.3 L319.6,393.3 L320.6,393.3 L321.6,393.3 L322.6,393.2 L323.6,393.2 L324.6,393.2 L325.6,393.1 L326.6,393.1 L327.6,393.0 L328.6,392.9 L329.6,392.9 L330.6,392.8 L331.6,392.8 L332.6,392.7 L333.6,392.6 L334.6,392.6 L335.6,392.5 L336.6,392.4 L337.6,392.4 L338.6,392.3 L339.6,392.2 L340.6,392.1 L341.6,392.1 L342.6,392.0 L343.6,391.9 L344.6,391.8 L345.6,391.7 L346.6,391.6 L347.6,391.5 L348.6,391.4 L349.6,391.3 L350.6,391.2 L351.6,391.1 L352.6,390.9 L353.6,390.8 L354.6,390.7 L355.6,390.6 L356.6,390.5 L357.6,390.3 L358.6,390.2 L359.6,390.1 L360.6,390.0 L361.6,389.9 L362.6,389.7 L363.6,389.6 L364.6,389.5 L365.6,389.4 L366.6,389.3 L367.6,389.2 L368.6,389.0 L369.6,388.9 L370.6,388.8 L371.6,388.7 L372.6,388.7 L373.6,388.6 L374.6,388.5 L375.6,388.4 L376.6,388.3 L377.6,388.2 L378.6,388.2 L379.6,388.1 L380.6,388.0 L381.6,387.9 L382.6,387.8 L383.6,387.7 L384.6,387.6 L385.6,387.5 L386.6,387.4 L387.6,387.3 L388.6,387.2 L389.6,387.2 L390.6,387.1 L391.6,387.0 L392.6,386.9 L393.6,386.8 L394.6,386.7 L395.6,386.6 L396.6,386.5 L397.6,386.4 L398.6,386.3 L399.6,386.2 L400.6,386.1 L401.6,386.0 L402.6,386.0 L403.6,385.9 L404.6,385.8 L405.6,385.7 L406.6,385.6 L407.6,385.5 L408.6,385.5 L409.6,385.4 L410.6,385.3 L411.6,385.2 L412.6,385.1 L413.6,385.1 L414.6,385.0 L415.6,384.9 L416.6,384.9 L417.6,384.8 L418.6,384.7 L419.6,384.7 L420.6,384.6 L421.6,384.6 L422.6,384.5 L423.6,384.5 L424.6,384.4 L425.6,384.4 L426.6,384.3 L427.6,384.3 L428.6,384.3 L429.6,384.2 L430.6,384.2 L431.6,384.2 L432.6,384.1 L433.6,384.1 L434.6,384.1 L435.6,384.0 L436.6,384.0 L437.6,384.0 L438.6,384.0 L439.6,383.9 L440.6,383.9 L441.6,383.9 L442.6,383.9 L443.6,383.9 L444.6,383.9 L445.6,383.9 L446.6,383.9 L447.6,383.9 L448.6,383.9 L449.6,383.9 L450.6,383.9 L451.6,384.0 L452.6,384.0 L453.6,384.0 L454.6,384.0 L455.6,384.0 L456.6,384.1 L457.6,384.1 L458.6,384.2 L459.6,384.3 L460.6,384.3 L461.6,384.4 L462.6,384.5 L463.6,384.5 L464.6,384.6 L465.6,384.6 L466.6,384.7 L467.6,384.7 L468.6,384.8 L469.6,384.8 L470.6,384.8 L471.6,384.9 L472.6,384.9 L473.6,385.0 L474.6,385.0 L475.6,385.1 L476.6,385.1 L477.6,385.2 L478.6,385.2 L479.6,385.3 L480.6,385.3 L481.6,385.4 L482.6,385.4 L483.6,385.5 L484.6,385.5 L485.6,385.6 L486.6,385.7 L487.6,385.7 L488.6,385.8 L489.6,385.8 L490.6,385.9 L491.6,385.9 L492.6,386.0 L493.6,386.0 L494.6,386.0 L495.6,386.1 L496.6,386.1 L497.6,386.2 L498.6,386.2 L499.6,386.3 L500.6,386.3 L501.6,386.4 L502.6,386.4 L503.6,386.5 L504.6,386.5 L505.6,386.6 L506.6,386.6 L507.6,386.7 L508.6,386.7 L509.6,386.8 L510.6,386.8 L511.6,386.9 L512.6,386.9 L513.6,387.0 L514.6,387.0 L515.6,387.1 L516.6,387.1 L517.6,387.2 L518.6,387.2 L519.6,387.3 L520.6,387.3 L521.6,387.4 L522.6,387.4 L523.6,387.5 L524.6,387.5 L525.6,387.6 L526.6,387.6 L527.6,387.7 L528.6,387.7 L529.6,387.7 L530.6,387.8 L531.6,387.8 L532.6,387.8 L533.6,387.9 L534.6,387.9 L535.6,387.9 L536.6,388.0 L537.6,388.0 L538.6,388.0 L539.6,388.1 L540.6,388.1 L541.6,388.2 L542.6,388.2 L543.6,388.2 L544.6,388.3 L545.6,388.3 L546.6,388.4 L547.6,388.4 L548.6,388.5 L549.6,388.5 L550.6,388.6 L551.6,388.6 L552.6,388.7 L553.6,388.7 L554.6,388.7 L555.6,388.8 L556.6,388.8 L557.6,388.9 L558.6,388.9 L559.6,389.0 L560.6,389.0 L561.6,389.1 L562.6,389.1 L563.6,389.2 L564.6,389.2 L565.6,389.3 L566.6,389.3 L567.6,389.3 L568.6,389.4 L569.6,389.4 L570.6,389.5 L571.6,389.5 L572.6,389.5 L573.6,389.6 L574.6,389.6 L575.6,389.6 L576.6,389.6 L577.6,389.7 L578.6,389.7 L579.6,389.7 L580.6,389.7 L581.6,389.7 L582.6,389.7 L583.6,389.8 L584.6,389.8 L585.6,389.8 L586.6,389.8 L587.6,389.8 L588.6,389.8 L589.6,389.8 L590.6,389.8 L591.6,389.9 L592.6,389.9 L593.6,389.9 L594.6,389.9 L595.6,389.9 L596.6,389.9 L597.6,389.9 L598.6,389.9 L599.6,389.9 L600.6,390.0 L601.6,390.0 L602.6,390.0 L603.6,390.0 L604.6,390.0 L605.6,390.0 L606.6,390.0 L607.6,390.0 L608.6,390.0 L609.6,390.0 L610.6,390.0 L611.6,390.0 L612.6,390.1 L613.6,390.1 L614.6,390.1 L615.6,390.1 L616.6,390.1 L617.6,390.1 L618.6,390.1 L619.6,390.1 L620.6,390.1 L621.6,390.1 L622.6,390.1 L623.6,390.1 L624.6,390.1 L625.6,390.1 L626.6,390.1 L627.6,390.1 L628.6,390.2 L629.6,390.2 L630.6,390.2 L631.6,390.2 L632.6,390.2 L633.6,390.2 L634.6,390.2 L635.6,390.2 L636.6,390.2 L637.6,390.2 L638.6,390.2 L639.6,390.2 L640.6,390.2 L641.6,390.2 L642.6,390.2 L643.6,390.2 L644.6,390.2 L645.6,390.2 L646.6,390.2 L647.6,390.2 L648.6,390.3 L649.6,390.3 L650.6,390.3 L651.6,390.3 L652.6,390.3 L653.6,390.3 L654.6,390.3 L655.6,390.3 L656.6,390.3 L657.6,390.3 L658.6,390.3 L659.6,390.3 L660.6,390.3 L661.6,390.3 L662.6,390.3 L663.6,390.3 L664.6,390.3 L665.6,390.3" stroke="#37AD6B"/>
</g>
<g stroke="#000" stroke-width="3.0" fill="none">
<path d="M59.7,-2V443.9" stroke-width="3.0"/><path d="M664.25,-2V443.9" stroke-width="2.45"/><path d="M58.2,0.25H665.47" stroke-width="3.0"/><path d="M58.2,442.4H665.47" stroke-width="2.8"/>
<path d="M59.7,418.10h7.2 M59.7,393.56h4.0 M59.7,369.02h7.2 M59.7,344.47h4.0 M59.7,319.93h7.2 M59.7,295.39h4.0 M59.7,270.85h7.2 M59.7,246.30h4.0 M59.7,221.76h7.2 M59.7,197.22h4.0 M59.7,172.68h7.2 M59.7,148.13h4.0 M59.7,123.59h7.2 M59.7,99.05h4.0 M59.7,74.50h7.2 M59.7,49.96h4.0 M59.7,25.42h7.2 M74.45,442.5v-7.2 M111.32,442.5v-4.0 M148.19,442.5v-7.2 M185.06,442.5v-4.0 M221.94,442.5v-7.2 M258.81,442.5v-4.0 M295.68,442.5v-7.2 M332.55,442.5v-4.0 M369.42,442.5v-7.2 M406.30,442.5v-4.0 M443.17,442.5v-7.2 M480.04,442.5v-4.0 M516.91,442.5v-7.2 M553.78,442.5v-4.0 M590.66,442.5v-7.2 M627.53,442.5v-4.0"/>
</g>
<g font-size="20.5">
<text x="51.5" y="424.3" text-anchor="end" font-size="20.6">0.0</text>
<text x="51.5" y="375.2" text-anchor="end" font-size="20.6">0.5</text>
<text x="51.5" y="326.1" text-anchor="end" font-size="20.6">1.0</text>
<text x="51.5" y="277.0" text-anchor="end" font-size="20.6">1.5</text>
<text x="51.5" y="228.0" text-anchor="end" font-size="20.6">2.0</text>
<text x="51.5" y="178.9" text-anchor="end" font-size="20.6">2.5</text>
<text x="51.5" y="129.8" text-anchor="end" font-size="20.6">3.0</text>
<text x="51.5" y="80.7" text-anchor="end" font-size="20.6">3.5</text>
<text x="51.5" y="31.6" text-anchor="end" font-size="20.6">4.0</text>
<text x="74.4" y="468" text-anchor="middle" font-size="21.7">300</text>
<text x="148.2" y="468" text-anchor="middle" font-size="21.7">400</text>
<text x="221.9" y="468" text-anchor="middle" font-size="21.7">500</text>
<text x="295.7" y="468" text-anchor="middle" font-size="21.7">600</text>
<text x="369.4" y="468" text-anchor="middle" font-size="21.7">700</text>
<text x="443.2" y="468" text-anchor="middle" font-size="21.7">800</text>
<text x="516.9" y="468" text-anchor="middle" font-size="21.7">900</text>
<text x="590.7" y="468" text-anchor="middle" font-size="21.7">1000</text>
<text x="664.4" y="468" text-anchor="middle" font-size="21.7">1100</text>
</g>
<text x="362.2" y="500.2" font-size="23.7" text-anchor="middle">Wavelength (nm)</text>
<text transform="translate(16.8,221.6) rotate(-90)" font-size="23.5" text-anchor="middle">Absorbance (A. U.)</text>
<rect x="517.75" y="12" width="126.35" height="102.7" fill="#000"/><rect x="519.15" y="14.0" width="122.85" height="99.3" fill="#fff"/>
<path d="M521.3,26.8H565.4" stroke="#515151" stroke-width="3.5" stroke-linecap="round"/>
<text x="571.3" y="33.2" font-size="19.8">BZNNi0</text>
<path d="M521.3,51.3H565.4" stroke="#F14040" stroke-width="3.5" stroke-linecap="round"/>
<text x="571.3" y="57.7" font-size="19.8">BZNNi1</text>
<path d="M521.3,75.8H565.4" stroke="#1A6FDF" stroke-width="3.5" stroke-linecap="round"/>
<text x="571.3" y="82.2" font-size="19.8">BZNNi2</text>
<path d="M521.3,100.3H565.4" stroke="#37AD6B" stroke-width="3.5" stroke-linecap="round"/>
<text x="571.3" y="106.7" font-size="19.8">BZNNi3</text>
<text><tspan x="110.0" y="316.5" font-size="14.5">3</tspan><tspan x="117.0" y="325" font-size="22.8">A</tspan><tspan x="133.6" y="331.0" font-size="14.8">2g</tspan><tspan x="153.8" y="325" font-size="20.4">(F)</tspan><tspan x="212.5" y="316.3" font-size="14.5">3</tspan><tspan x="219.6" y="325" font-size="22.6">T</tspan><tspan x="233.9" y="331.0" font-size="14.8">1g</tspan><tspan x="253.0" y="325" font-size="22">(P)</tspan></text><text transform="translate(179.6,324.2) scale(1.33,1)" font-size="26" style='font-family:"Liberation Serif",serif'>→</text>
<text><tspan x="368.7" y="367" font-size="14.5">3</tspan><tspan x="375.3" y="375.8" font-size="22.8">A</tspan><tspan x="391.8" y="381.4" font-size="14.8">2g</tspan><tspan x="410.2" y="375.8" font-size="20.8">(F)</tspan><tspan x="470" y="367" font-size="14.5">1</tspan><tspan x="475.7" y="375.8" font-size="22.6">E</tspan><tspan x="490.0" y="381.4" font-size="14.8">g</tspan><tspan x="503.1" y="375.8" font-size="23">(</tspan><tspan x="510.3" y="367.3" font-size="13.6">3</tspan><tspan x="517.0" y="375.5" font-size="23">F)</tspan></text><text transform="translate(435.6,374.4) scale(1.33,1)" font-size="26" style='font-family:"Liberation Serif",serif'>→</text>
</svg></body></html>
